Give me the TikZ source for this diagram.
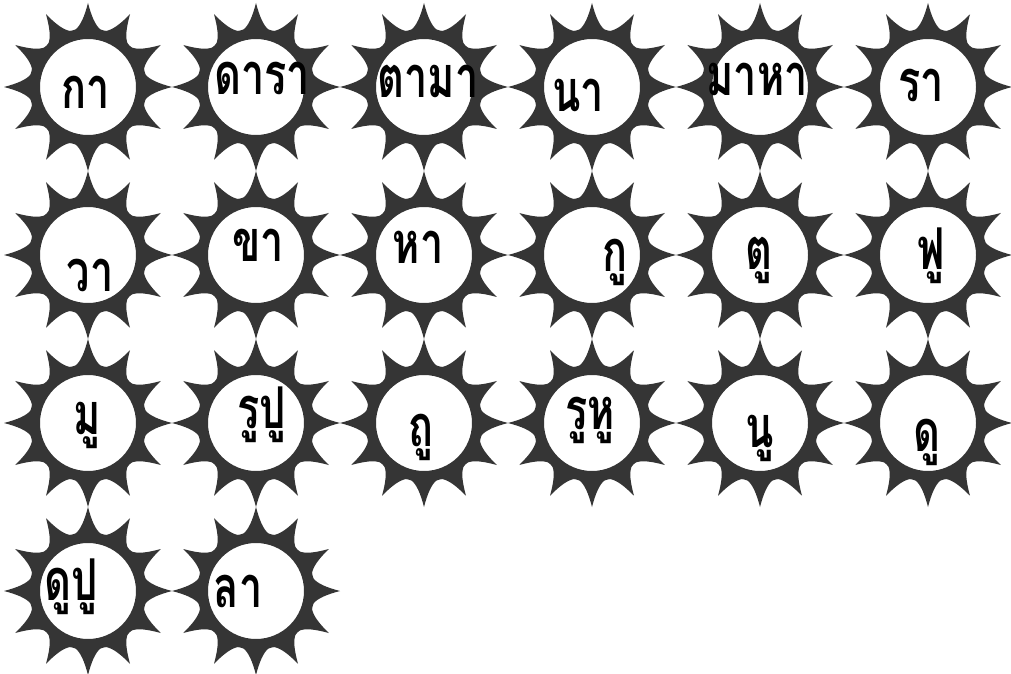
\documentclass[tikz,border=0pt]{standalone}
\usepackage{fontspec}
\usepackage{graphicx}
\newfontfamily\thaifont[Script=Thai]{Loma}
\definecolor{sungray}{HTML}{353535}
\newcommand{\tw}[1]{\scalebox{0.72}[1]{#1}}
% one sun: 12 rays round a white disc
\newcommand{\sunat}[2]{%
  \begin{scope}[shift={(#1,#2)}]
    \fill[sun] (0:84) \foreach \a in {0,30,...,330}{
      .. controls ({\a+3}:70) and ({\a+7}:62) .. ({\a+12}:59)
      .. controls ({\a+14}:58.5) and ({\a+16}:58.5) .. ({\a+18}:59)
      .. controls ({\a+23}:62) and ({\a+27}:70) .. ({\a+30}:84)} -- cycle
      (0,0) circle[radius=48];
  \end{scope}}

\begin{document}
\begin{tikzpicture}[
  x=0.025cm, y=0.025cm,
  sun/.style={fill=sungray, even odd rule},
  word/.style={font=\thaifont\bfseries\fontsize{41}{41}\selectfont, inner sep=0pt},
]
  \fill[white] (0,0) rectangle (1011,-674);
  \useasboundingbox (0,0) rectangle (1011,-674);

  \sunat{88}{-87}  \sunat{256}{-87}  \sunat{424}{-87}
  \sunat{592}{-87} \sunat{760}{-87}  \sunat{928}{-87}
  \sunat{88}{-255} \sunat{256}{-255} \sunat{424}{-255}
  \sunat{592}{-255} \sunat{760}{-255} \sunat{928}{-255}
  \sunat{88}{-423} \sunat{256}{-423} \sunat{424}{-423}
  \sunat{592}{-423} \sunat{760}{-423} \sunat{928}{-423}
  \sunat{88}{-591} \sunat{256}{-591}

  % row 1
  \node[word] (kaa) at (86,-92) {\tw{กา}};
  \node[word] (daaraa) at (262,-78) {\tw{ดารา}};
  \node[word] (taamaa) at (428,-81) {\tw{ตามา}};
  \node[word] (naa) at (578,-95) {\tw{นา}};
  \node[word] (maahaa) at (757,-79) {\tw{มาหา}};
  \node[word] (raa) at (921,-85) {\tw{รา}};
  % row 2
  \node[word] (waa) at (90,-275) {\tw{วา}};
  \node[word] (khaa) at (258,-245) {\tw{ขา}};
  \node[word] (haa) at (418,-247) {\tw{หา}};
  \node[word] (kuu) at (615,-262) {\tw{กู}};
  \node[word] (tuu) at (759,-260) {\tw{ตู}};
  \node[word] (fuu) at (931,-256) {\tw{ฟู}};
  % row 3
  \node[word] (muu) at (87,-425) {\tw{มู}};
  \node[word] (ruupuu) at (262,-415) {\tw{รูปู}};
  \node[word] (thuu) at (421,-437) {\tw{ถู}};
  \node[word] (ruuhuu) at (590,-420) {\tw{รูหู}};
  \node[word] (nuu) at (760,-438) {\tw{นู}};
  \node[word] (duu) at (927,-442) {\tw{ดู}};
  % row 4
  \node[word] (duupuu) at (71,-587) {\tw{ดูปู}};
  \node[word] (laa) at (238,-591) {\tw{ลา}};
\end{tikzpicture}
\end{document}
